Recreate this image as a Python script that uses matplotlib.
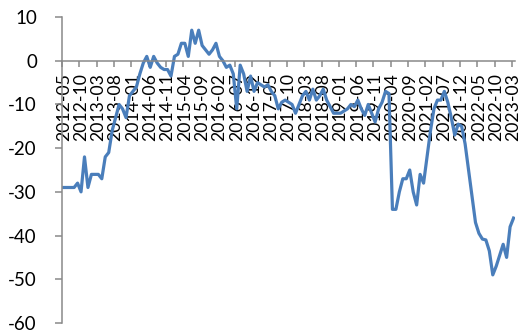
import matplotlib
matplotlib.use("Agg")
import matplotlib.pyplot as plt
import numpy as np

# Monthly categories from 2012-05 to 2023-03
months = []
y, m = 2012, 5
while (y, m) <= (2023, 3):
    months.append(f"{y}-{m:02d}")
    m += 1
    if m > 12:
        y, m = y + 1, 1

values = [
    -29, -29, -29, -29, -28, -30, -22, -29, -26, -26,
    -26, -27, -22, -21, -16, -13, -10, -11, -13, -8,
    -7, -6, -3, -0.5, 1, -1.5, 1, -0.5, -1.5, -2,
    -2, -3.5, 1, 1.5, 4, 4, 1, 7, 4, 7,
    3.5, 2.5, 1.5, 2.5, 4, 1, 0, -1.5, -1, -3,
    -11, -1, -3, -7, -3.5, -7, -5, -5.5, -6, -5.5,
    -7, -8, -11, -9.5, -9, -9.5, -10, -12, -10, -8,
    -7, -9, -6.5, -9, -8, -6.5, -9, -10.5, -12, -12,
    -12, -11.5, -11, -10, -10.5, -9, -11, -12.5, -10, -12,
    -14, -11, -9.5, -7, -7.5, -34, -34, -30, -27, -27,
    -25, -30, -33, -26, -28, -22, -16, -11, -9, -9,
    -7, -9.5, -13, -17, -14.5, -15, -19, -25, -31, -37,
    -39.5, -40.8, -41, -43.5, -49, -47, -44.5, -42, -45, -38, -36,
]

y_ticks = [-60, -50, -40, -30, -20, -10, 0, 10]
label_step = 5

plt.rcParams['font.family'] = ['Lato', 'DejaVu Sans']

fig = plt.figure(figsize=(5.21, 3.35), dpi=100)
ax = fig.add_axes([0.119, 0.036, 0.870, 0.913])

x = np.arange(len(values))
ax.plot(x, values, color='#4A7EBB', lw=2.3, solid_joinstyle='round')

ax.set_xlim(-0.5, len(values) - 0.5)
ax.set_ylim(-60, 10)

axis_color = '#898989'
for side in ('top', 'right'):
    ax.spines[side].set_visible(False)
ax.spines['left'].set_color(axis_color)
ax.spines['left'].set_linewidth(1.1)
ax.spines['bottom'].set_color(axis_color)
ax.spines['bottom'].set_linewidth(1.1)
ax.spines['bottom'].set_position(('data', 0))

# y axis
ax.set_yticks(y_ticks)
ax.set_yticklabels([str(v) for v in y_ticks])
ax.tick_params(axis='y', direction='out', length=5, width=1.1, color=axis_color,
               pad=13, labelsize=13.5, labelcolor='black')

# x axis: labels every 5 months, tick marks on category boundaries
label_pos = x[::label_step]
ax.set_xticks(label_pos)
ax.set_xticklabels([months[i] for i in label_pos], rotation=90, ha='center', va='top')
ax.tick_params(axis='x', which='major', length=0, pad=9, labelsize=12.7, labelcolor='black')
ax.set_xticks(np.arange(-0.5, len(values) - 1, label_step), minor=True)
ax.tick_params(axis='x', which='minor', direction='out', length=4.5, width=1.1, color=axis_color)

fig.savefig('out.png', dpi=100)
